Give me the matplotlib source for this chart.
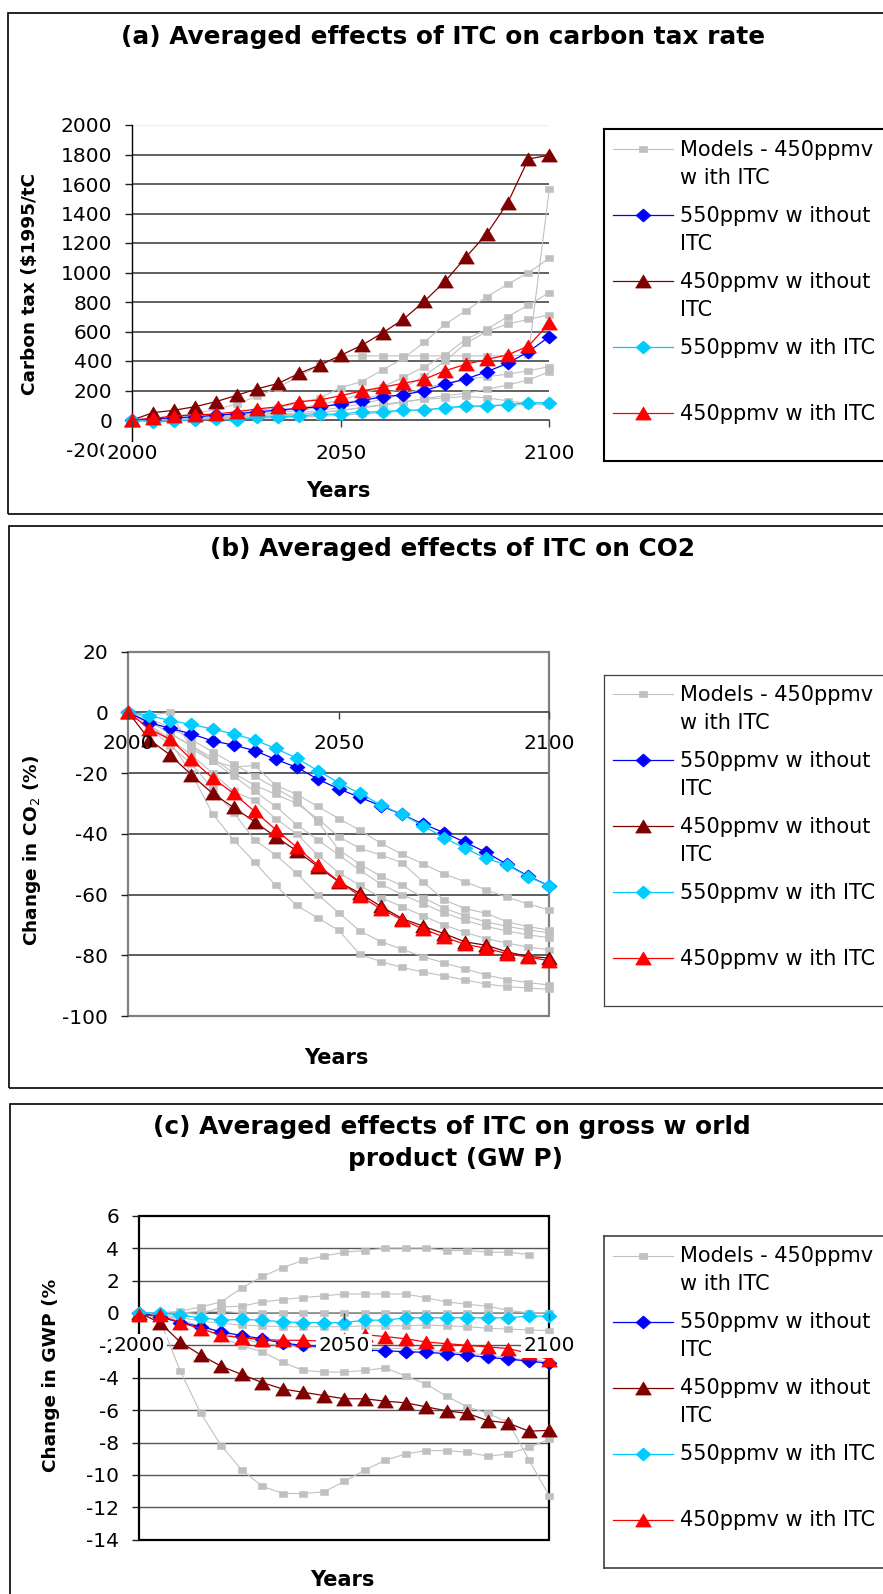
import numpy as np
import matplotlib
matplotlib.use("Agg")
import matplotlib.pyplot as plt
from matplotlib.path import Path
from matplotlib.patches import Rectangle

plt.rcParams['font.family'] = ['DejaVu Sans']
plt.rcParams['axes.unicode_minus'] = False

W, H = 883, 1594

years = np.arange(2000, 2101, 5)

# (a) carbon tax, $1995/tC
tax_550_no_itc = [0, 8, 15, 22, 32, 42, 55, 68, 79, 90, 108, 131, 158, 170, 199, 242, 278, 327, 384, 463, 565]
tax_450_no_itc = [0, 50, 66, 90, 124, 167, 212, 248, 316, 373, 439, 506, 590, 683, 804, 940, 1104, 1262, 1471, 1770, 1795]
tax_550_itc = [0, -13, -8, 3, 4, 0, 18, 23, 27, 39, 40, 55, 55, 68, 66, 84, 95, 95, 104, 117, 117]
tax_450_itc = [0, 11, 27, 34, 41, 56, 75, 90, 124, 136, 165, 197, 222, 249, 276, 334, 378, 411, 441, 502, 655]
tax_models = [
    [0, 10, 25, 45, 70, 110, 160, 220, 300, 370, 435, 435, 435, 435, 435, 435, 435, 435, 435, 440, 1566],
    [0, 5, 12, 20, 30, 45, 62, 85, 115, 150, 220, 260, 339, 418, 527, 649, 741, 836, 920, 999, 1096],
    [0, 3, 8, 14, 22, 32, 45, 60, 80, 105, 135, 175, 225, 290, 360, 440, 547, 615, 700, 780, 863],
    [0, 3, 7, 12, 18, 26, 36, 50, 66, 85, 110, 140, 175, 215, 300, 400, 520, 600, 651, 682, 714],
    [0, 2, 5, 9, 14, 20, 28, 38, 50, 65, 85, 110, 140, 175, 215, 250, 276, 294, 310, 334, 362],
    [0, 2, 4, 7, 11, 16, 22, 30, 40, 52, 66, 82, 100, 120, 145, 165, 181, 208, 237, 271, 328],
    [0, 2, 4, 7, 10, 14, 20, 28, 38, 50, 65, 85, 105, 125, 140, 150, 160, 150, 130, 110, 100],
    [0, 1, 2, 4, 6, 9, 12, 16, 20, 25, 32, 40, 50, 60, 70, 80, 88, 95, 100, 105, 110],
]

# (b) change in CO2, %
co2_550_no_itc = [0, -3.4, -5.3, -7.1, -9.4, -10.8, -12.6, -15.5, -18.1, -22.0, -25.2, -28.0, -30.8, -33.6, -36.8, -39.6, -42.8, -46.1, -50.1, -53.9, -57.2]
co2_450_no_itc = [0, -9.0, -14.1, -20.6, -26.7, -31.3, -36.0, -41.0, -45.6, -50.8, -55.8, -59.6, -63.9, -67.9, -70.4, -72.9, -75.6, -76.7, -78.9, -80.4, -80.9]
co2_550_itc = [0, -1.1, -2.7, -4.0, -5.5, -7.1, -9.1, -11.9, -15.1, -19.2, -23.2, -26.7, -30.5, -33.6, -37.3, -41.3, -44.8, -48.1, -50.3, -54.1, -57.2]
co2_450_itc = [0, -5.5, -8.9, -15.5, -21.6, -26.7, -32.6, -38.6, -44.4, -50.3, -55.6, -60.5, -64.7, -68.3, -71.3, -74.0, -76.4, -77.7, -79.5, -80.6, -81.8]
co2_models = [
    [0, -1, 0, -12, -16, -18, -17.5, -24, -27, -31, -35, -38.8, -43.1, -46.7, -49.9, -53.2, -55.8, -58.5, -60.9, -63.1, -65.1],
    [0, -3, -7, -11, -15, -20, -24, -27, -30, -35, -41, -44.8, -47, -49.5, -55.8, -61.8, -64.6, -66.2, -69, -70.6, -71.7],
    [0, -2, -5, -9, -13, -17, -21, -25, -29, -36, -45.3, -50, -54, -57, -61, -64.5, -67, -69, -70.5, -71.7, -72.6],
    [0, -3, -7, -11, -16, -21, -26, -31, -37, -42, -47, -52, -56.5, -60, -63, -66, -68.5, -70.5, -72, -73.3, -74.2],
    [0, -4, -9, -14, -20, -26, -29, -35, -40, -47, -52.8, -57, -61, -64, -67, -70, -72.5, -74.5, -76, -77.3, -78.2],
    [0, -5, -11, -17, -25, -33, -42, -47, -53, -60, -66, -72, -75.5, -78, -80.5, -82.5, -84.5, -86.5, -88, -89, -89.8],
    [0, -4, -10, -20, -33.4, -42, -49.3, -57, -63.6, -67.7, -71.8, -79.7, -82.1, -84, -85.5, -86.8, -88.1, -89.5, -90.3, -90.8, -91.2],
]

# (c) change in GWP, %
gwp_550_no_itc = [0, -0.25, -0.6, -0.85, -1.17, -1.4, -1.6, -1.87, -2.0, -2.1, -2.2, -2.3, -2.33, -2.4, -2.43, -2.52, -2.6, -2.75, -2.85, -2.98, -3.1]
gwp_450_no_itc = [0, -0.6, -1.8, -2.6, -3.3, -3.8, -4.3, -4.7, -4.9, -5.1, -5.3, -5.3, -5.45, -5.55, -5.8, -6.05, -6.2, -6.65, -6.8, -7.3, -7.25]
gwp_550_itc = [0, 0, -0.15, -0.3, -0.45, -0.4, -0.45, -0.55, -0.6, -0.6, -0.6, -0.45, -0.45, -0.3, -0.3, -0.3, -0.3, -0.3, -0.3, -0.2, -0.2]
gwp_450_itc = [-0.15, -0.15, -0.6, -0.97, -1.38, -1.54, -1.65, -1.69, -1.69, -1.75, -1.6, -1.35, -1.46, -1.6, -1.8, -1.9, -2.0, -2.1, -2.2, -2.5, -2.9]
gwp_models = [
    [0, 0, 0.1, 0.37, 0.68, 1.54, 2.25, 2.8, 3.25, 3.5, 3.75, 3.85, 4.0, 4.0, 4.0, 3.85, 3.85, 3.75, 3.75, 3.6, np.nan],
    [0, 0, 0, -0.1, 0.37, 0.41, 0.68, 0.82, 0.95, 1.05, 1.17, 1.17, 1.17, 1.17, 0.93, 0.68, 0.53, 0.41, 0.16, 0.0, 0.0],
    [0, -0.4, -3.6, -6.2, -8.2, -9.7, -10.7, -11.15, -11.15, -11.05, -10.4, -9.7, -9.1, -8.7, -8.5, -8.5, -8.6, -8.85, -8.7, -8.3, -7.8],
    [0, -0.1, -0.4, -0.9, -1.5, -2.05, -2.4, -3.05, -3.55, -3.65, -3.65, -3.55, -3.4, -3.9, -4.4, -5.15, -5.8, -6.2, -6.75, -9.05, -11.3],
    [0, 0, 0, 0.1, 0.1, 0, 0, 0, 0, 0, 0, 0, 0, 0, 0, 0, 0, 0, 0, 0, 0],
    [0, -0.1, -0.3, -0.5, -0.65, -0.75, -0.8, -0.85, -0.85, -0.85, -0.85, -0.8, -0.8, -0.8, -0.75, -0.8, -0.85, -0.95, -1.0, -1.05, -1.1],
    [0, -0.2, -0.5, -0.8, -1.2, -1.6, -1.9, -2.0, -2.1, -2.2, -2.2, -2.2, -2.2, -2.2, -2.3, -2.4, -2.5, -2.6, -2.8, -2.9, -3.0],
]

legend_labels = [
    ['Models - 450ppmv', 'w ith ITC'],
    ['550ppmv w ithout', 'ITC'],
    ['450ppmv w ithout', 'ITC'],
    ['550ppmv w ith ITC'],
    ['450ppmv w ith ITC'],
]

# Excel-like markers (slightly wider than tall)
SQUARE = Path([(-1, -0.62), (1, -0.62), (1, 0.62), (-1, 0.62), (-1, -0.62)], closed=True)
DIAMOND = Path([(0, 0.87), (1, 0), (0, -0.87), (-1, 0), (0, 0.87)], closed=True)
TRIANGLE = Path([(-1, -0.84), (1, -0.84), (0, 0.84), (-1, -0.84)], closed=True)

styles = [
    dict(color='#c0c0c0', marker=SQUARE, markersize=6.1, linewidth=0.8),
    dict(color='#0000ff', marker=DIAMOND, markersize=10.8, linewidth=0.9),
    dict(color='#800000', marker=TRIANGLE, markersize=11.2, linewidth=0.9),
    dict(color='#00ccff', marker=DIAMOND, markersize=10.8, linewidth=0.9),
    dict(color='#ff0000', marker=TRIANGLE, markersize=11.2, linewidth=0.9),
]

fig = plt.figure(figsize=(W / 100, H / 100), dpi=100)
fig.patch.set_facecolor('white')


def axes_px(left, top, right, bottom):
    return fig.add_axes([left / W, 1 - bottom / H, (right - left) / W, (bottom - top) / H])


def text_px(x, y, s, **kw):
    fig.text(x / W, 1 - y / H, s, **kw)


def box_px(left, top, right, bottom, lw=1.2):
    fig.add_artist(Rectangle((left / W, 1 - bottom / H), (right - left) / W, (bottom - top) / H,
                             transform=fig.transFigure, fill=False, ec='black', lw=lw))


def draw_series(ax, models, s550no, s450no, s550w, s450w):
    for m in models:
        ax.plot(years, m, mec=styles[0]['color'], mew=0.4, clip_on=False, zorder=3, **styles[0])
    for vals, st in zip([s550no, s450no, s550w, s450w], styles[1:]):
        ax.plot(years, vals, mec=st['color'], mew=0.5, clip_on=False, zorder=3, **st)


def style_axes(ax, ymin, ymax, ystep, xpad, box_labels):
    ax.set_xlim(2000, 2100)
    ax.set_ylim(ymin, ymax)
    ax.set_yticks(np.arange(ymin, ymax + ystep / 2, ystep))
    ax.set_xticks([2000, 2050, 2100])
    ax.patch.set_alpha(0)
    for side in ['top', 'right', 'left']:
        ax.spines[side].set_visible(False)
    ax.spines['bottom'].set_position(('data', 0))
    ax.spines['bottom'].set_color('#404040')
    ax.spines['bottom'].set_linewidth(1.2)
    ax.tick_params(axis='y', direction='out', length=5, width=1, pad=9.5,
                   labelsize=14.5, color='#202020')
    ax.tick_params(axis='x', direction='out', length=4.8, width=1, pad=xpad,
                   labelsize=14.5, color='#404040')
    ax.xaxis.set_zorder(3.5)
    if box_labels:
        for lbl in ax.get_xticklabels():
            lbl.set_bbox(dict(boxstyle='square,pad=0.12', fc='white', ec='none'))


def draw_legend(top, edge, lw):
    lg = axes_px(603.6, top, 900, top + 331.5)
    lg.set_xlim(0, 296.4)
    lg.set_ylim(331.5, 0)
    lg.set_xticks([])
    lg.set_yticks([])
    for sp in lg.spines.values():
        sp.set_color(edge)
        sp.set_linewidth(lw)
    for i, (lines, st) in enumerate(zip(legend_labels, styles)):
        y = 19.7 + 66 * i
        lg.plot([9, 39.2, 69.4], [y, y, y], markevery=[1], mec=st['color'], mew=0.5, **st)
        for j, s in enumerate(lines):
            lg.text(76, y + 6.5 + 28 * j, s, fontsize=15, va='baseline', ha='left')


# ---- (a) carbon tax ----
box_px(8, 13, 900, 514)
ax = axes_px(132.3, 125, 549.3, 449.5)
draw_series(ax, tax_models, tax_550_no_itc, tax_450_no_itc, tax_550_itc, tax_450_itc)
ax.hlines(np.arange(200, 1801, 200), 2000, 2100, colors='#555555', linewidth=1.3, zorder=1)
ax.hlines([2000], 2000, 2100, colors='#eeeeee', linewidth=1.0, zorder=1)
style_axes(ax, -200, 2000, 200, 12.7, True)
ax.spines['left'].set_visible(True)
ax.spines['left'].set_color('black')
ax.spines['left'].set_linewidth(1.0)
draw_legend(129.3, 'black', 1.5)
text_px(443.5, 44.3, '(a) Averaged effects of ITC on carbon tax rate', ha='center',
        va='baseline', fontsize=17.8, fontweight='bold')
text_px(35, 284, 'Carbon tax ($1995/tC', rotation=90, rotation_mode='anchor', ha='center',
        va='baseline', fontsize=13.3, fontweight='bold')
text_px(338, 497, 'Years', ha='center', va='baseline', fontsize=15, fontweight='bold')

# ---- (b) CO2 ----
box_px(8.5, 526.5, 900, 1088)
ax = axes_px(128.3, 651.6, 549.3, 1016)
draw_series(ax, co2_models, co2_550_no_itc, co2_450_no_itc, co2_550_itc, co2_450_itc)
ax.hlines([-20, -40, -60, -80], 2000, 2100, colors='#303030', linewidth=1.1, zorder=1)
ax.add_patch(Rectangle((0, 0), 1, 1, transform=ax.transAxes, fill=False, ec='#808080',
                       lw=1.6, zorder=1.5, clip_on=False))
style_axes(ax, -100, 20, 20, 11.1, False)
draw_legend(674.5, '#404040', 0.9)
text_px(453, 556.4, '(b) Averaged effects of ITC on CO2', ha='center', va='baseline',
        fontsize=17.8, fontweight='bold')
text_px(36.6, 850, 'Change in CO$_2$ (%)', rotation=90, rotation_mode='anchor', ha='center',
        va='baseline', fontsize=13.3, fontweight='bold')
text_px(336, 1063.6, 'Years', ha='center', va='baseline', fontsize=15, fontweight='bold')

# ---- (c) GWP ----
box_px(10, 1104, 900, 1610)
ax = axes_px(139.3, 1215.7, 549.3, 1539.7)
draw_series(ax, gwp_models, gwp_550_no_itc, gwp_450_no_itc, gwp_550_itc, gwp_450_itc)
ax.hlines([4, 2, -2, -4, -6, -8, -10, -12], 2000, 2100, colors='#555555', linewidth=1.0, zorder=1)
ax.add_patch(Rectangle((0, 0), 1, 1, transform=ax.transAxes, fill=False, ec='black',
                       lw=1.6, zorder=1.5, clip_on=False))
style_axes(ax, -14, 6, 2, 12.0, True)
draw_legend(1236, '#404040', 1.2)
text_px(452, 1134.3, '(c) Averaged effects of ITC on gross w orld', ha='center', va='baseline',
        fontsize=17.8, fontweight='bold')
text_px(455, 1166, 'product (GW P)', ha='center', va='baseline', fontsize=17.8, fontweight='bold')
text_px(56, 1375.5, 'Change in GWP (%', rotation=90, rotation_mode='anchor', ha='center',
        va='baseline', fontsize=13.3, fontweight='bold')
text_px(342, 1586, 'Years', ha='center', va='baseline', fontsize=15, fontweight='bold')

fig.savefig('out.png', dpi=100, facecolor='white')
